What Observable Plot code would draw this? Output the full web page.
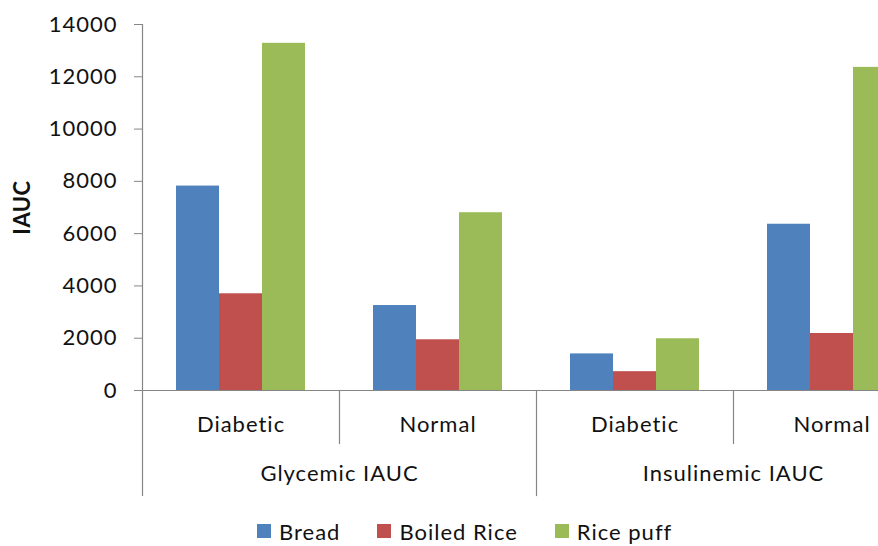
<!DOCTYPE html>
<html><head><meta charset="utf-8">
<script src="https://cdn.jsdelivr.net/npm/d3@7"></script>
<script src="https://cdn.jsdelivr.net/npm/@observablehq/plot@0.6"></script>
<style>
html,body{margin:0;padding:0;background:#fff;overflow:hidden;}
body{width:878px;height:546px;font-family:Lato,sans-serif;color:#111;}
#chart svg{max-width:none !important;display:block;}
#chart svg text{letter-spacing:1px;}
#chart g[aria-label="y-axis label"] text{font-weight:bold;letter-spacing:0.5px;}
#legend{height:42px;display:flex;align-items:center;padding-left:257px;font-size:22px;letter-spacing:1px;}
#legend .item{display:flex;align-items:center;margin-right:37px;}
#legend .sw{width:14px;height:14px;margin-right:8px;}
</style></head>
<body>
<div id="chart"></div>
<div id="legend"></div>
<script>
const groups = ["Glycemic IAUC", "Glycemic IAUC", "Insulinemic IAUC", "Insulinemic IAUC"];
const categories = ["Diabetic", "Normal", "Diabetic", "Normal"];
const groupLabels = ["Glycemic IAUC", "Insulinemic IAUC"];
const series = ["Bread", "Boiled Rice", "Rice puff"];
const bread = [7820, 3250, 1400, 6360];
const boiledRice = [3700, 1940, 720, 2180];
const ricePuff = [13280, 6800, 1980, 12360];
const yTicks = [0, 2000, 4000, 6000, 8000, 10000, 12000, 14000];
const colors = ["#4F81BD", "#C0504D", "#9BBB59"];

const keys = categories.map((c, i) => groups[i] + "|" + c);
const values = [bread, boiledRice, ricePuff];
const rows = [];
keys.forEach((k, i) => series.forEach((s, j) => rows.push({key: k, series: s, value: values[j][i]})));

const axisGray = "#868686";

const chart = Plot.plot({
  width: 940, height: 510,
  marginLeft: 141, marginRight: 9, marginTop: 24, marginBottom: 120,
  style: {fontFamily: "Lato, sans-serif", fontSize: "22px", color: "#111", background: "#fff"},
  fx: {domain: keys, padding: 0, label: null},
  x: {domain: series, paddingInner: 0, paddingOuter: 0.765, axis: null},
  y: {domain: [0, 14000]},
  color: {domain: series, range: colors},
  marks: [
    Plot.barY(rows, {fx: "key", x: "series", y: "value", fill: "series"}),
    Plot.ruleY([0], {stroke: axisGray, strokeWidth: 1.2}),
    Plot.frame({anchor: "left", fx: keys[0], stroke: axisGray, strokeWidth: 1.2, insetBottom: -105}),
    Plot.frame({anchor: "left", fx: keys[1], stroke: axisGray, strokeWidth: 1.2, insetTop: 366, insetBottom: -53}),
    Plot.frame({anchor: "left", fx: keys[2], stroke: axisGray, strokeWidth: 1.2, insetTop: 366, insetBottom: -105}),
    Plot.frame({anchor: "left", fx: keys[3], stroke: axisGray, strokeWidth: 1.2, insetTop: 366, insetBottom: -53}),
    Plot.axisY({ticks: yTicks, tickSize: 8, tickPadding: 17, stroke: axisGray, tickFormat: d => String(d),
      label: "IAUC", labelAnchor: "center", labelOffset: 128, labelArrow: "none"}),
    Plot.axisFx({anchor: "bottom", tickSize: 0, tickPadding: 26, label: null,
      tickFormat: d => categories[keys.indexOf(d)]}),
    Plot.text(groupLabels, {fx: d => d + "|Diabetic", text: d => d, frameAnchor: "bottom-right", dy: 90, textAnchor: "middle"})
  ]
});
document.getElementById("chart").appendChild(chart);

const legend = document.getElementById("legend");
series.forEach((s, i) => {
  const it = document.createElement("div");
  it.className = "item";
  const sw = document.createElement("div");
  sw.className = "sw";
  sw.style.background = colors[i];
  const t = document.createElement("span");
  t.textContent = s;
  it.appendChild(sw); it.appendChild(t);
  legend.appendChild(it);
});
</script>
</body></html>
